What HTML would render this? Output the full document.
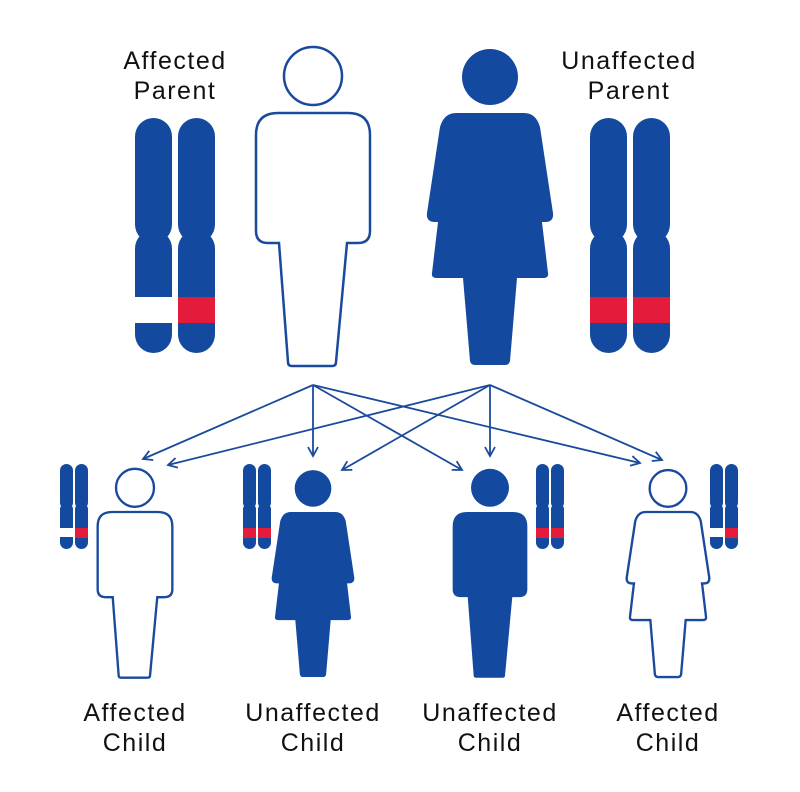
<!DOCTYPE html>
<html><head><meta charset="utf-8"><style>
html,body{margin:0;padding:0;background:#fff;}
svg{display:block;}
text{font-family:"Liberation Sans",sans-serif;font-size:25px;letter-spacing:1.5px;fill:#111;text-anchor:middle;}
</style></head><body>
<svg width="800" height="792" viewBox="0 0 800 792" xmlns="http://www.w3.org/2000/svg">
<defs>
<g id="male">
 <circle cx="0" cy="-37" r="29"/>
 <path d="M-57,22 Q-57,0 -35,0 L35,0 Q57,0 57,22 L57,118 Q57,130 45,130 L34,130 L23,249 Q23,253 19,253 L-21,253 Q-25,253 -25,249 L-34,130 L-45,130 Q-57,130 -57,118 Z"/>
</g>
<g id="female">
 <circle cx="0" cy="-36" r="28"/>
 <path d="M-34,0 L34,0 Q46,0 50,14 L63,100 Q64,109 55,109 L52,109 L58,160 Q59,165 53,165 L27,165 L20,248 Q19,252 15,252 L-15,252 Q-19,252 -20,248 L-27,165 L-53,165 Q-59,165 -58,160 L-52,109 L-55,109 Q-64,109 -63,100 L-50,14 Q-46,0 -34,0 Z"/>
</g>
<marker id="ah" markerWidth="12" markerHeight="12" refX="10" refY="6" orient="auto" markerUnits="userSpaceOnUse">
 <path d="M1,1 L10,6 L1,11" fill="none" stroke="#1a4a9c" stroke-width="1.8"/>
</marker>
</defs>

<text x="175" y="69">Affected</text>
<text x="175" y="99">Parent</text>
<text x="629" y="69">Unaffected</text>
<text x="629" y="99">Parent</text>

<use href="#male" transform="translate(313,113)" fill="#fff" stroke="#1a4a9c" stroke-width="2.5"/>
<use href="#female" transform="translate(490,113)" fill="#134a9f"/>

<g fill="#134a9f">
 <rect x="135" y="118" width="37" height="125" rx="18.5"/><rect x="135" y="230" width="37" height="123" rx="18.5"/>
 <rect x="178" y="118" width="37" height="125" rx="18.5"/><rect x="178" y="230" width="37" height="123" rx="18.5"/>
 <rect x="590" y="118" width="37" height="125" rx="18.5"/><rect x="590" y="230" width="37" height="123" rx="18.5"/>
 <rect x="633" y="118" width="37" height="125" rx="18.5"/><rect x="633" y="230" width="37" height="123" rx="18.5"/>
</g>
<rect x="134" y="297" width="39" height="26" fill="#fff"/>
<rect x="178" y="297" width="37" height="26" fill="#e41b3b"/>
<rect x="590" y="297" width="37" height="26" fill="#e41b3b"/>
<rect x="633" y="297" width="37" height="26" fill="#e41b3b"/>

<g stroke="#1a4a9c" stroke-width="1.8" fill="none" marker-end="url(#ah)">
 <line x1="313" y1="385" x2="143" y2="459"/>
 <line x1="313" y1="385" x2="313" y2="456"/>
 <line x1="313" y1="385" x2="462" y2="470"/>
 <line x1="313" y1="385" x2="640" y2="463"/>
 <line x1="490" y1="385" x2="168" y2="465"/>
 <line x1="490" y1="385" x2="342" y2="470"/>
 <line x1="490" y1="385" x2="490" y2="456"/>
 <line x1="490" y1="385" x2="662" y2="460"/>
</g>

<use href="#male" transform="translate(135,512) scale(0.655)" fill="#fff" stroke="#1a4a9c" stroke-width="3.6"/>
<use href="#female" transform="translate(313,512) scale(0.655)" fill="#134a9f"/>
<use href="#male" transform="translate(490,512) scale(0.655)" fill="#134a9f"/>
<use href="#female" transform="translate(668,512) scale(0.655)" fill="#fff" stroke="#1a4a9c" stroke-width="3.6"/>

<g fill="#134a9f">
 <rect x="60" y="464" width="13" height="45" rx="6.5"/><rect x="60" y="503" width="13" height="46" rx="6.5"/>
 <rect x="75" y="464" width="13" height="45" rx="6.5"/><rect x="75" y="503" width="13" height="46" rx="6.5"/>
 <rect x="243" y="464" width="13" height="45" rx="6.5"/><rect x="243" y="503" width="13" height="46" rx="6.5"/>
 <rect x="258" y="464" width="13" height="45" rx="6.5"/><rect x="258" y="503" width="13" height="46" rx="6.5"/>
 <rect x="536" y="464" width="13" height="45" rx="6.5"/><rect x="536" y="503" width="13" height="46" rx="6.5"/>
 <rect x="551" y="464" width="13" height="45" rx="6.5"/><rect x="551" y="503" width="13" height="46" rx="6.5"/>
 <rect x="710" y="464" width="13" height="45" rx="6.5"/><rect x="710" y="503" width="13" height="46" rx="6.5"/>
 <rect x="725" y="464" width="13" height="45" rx="6.5"/><rect x="725" y="503" width="13" height="46" rx="6.5"/>
</g>
<rect x="59" y="528" width="15" height="9" fill="#fff"/>
<rect x="75" y="528" width="13" height="10" fill="#e41b3b"/>
<rect x="243" y="528" width="13" height="10" fill="#e41b3b"/>
<rect x="258" y="528" width="13" height="10" fill="#e41b3b"/>
<rect x="536" y="528" width="13" height="10" fill="#e41b3b"/>
<rect x="551" y="528" width="13" height="10" fill="#e41b3b"/>
<rect x="709" y="528" width="15" height="9" fill="#fff"/>
<rect x="725" y="528" width="13" height="10" fill="#e41b3b"/>

<text x="135" y="721">Affected</text><text x="135" y="751">Child</text>
<text x="313" y="721">Unaffected</text><text x="313" y="751">Child</text>
<text x="490" y="721">Unaffected</text><text x="490" y="751">Child</text>
<text x="668" y="721">Affected</text><text x="668" y="751">Child</text>
</svg>
</body></html>
